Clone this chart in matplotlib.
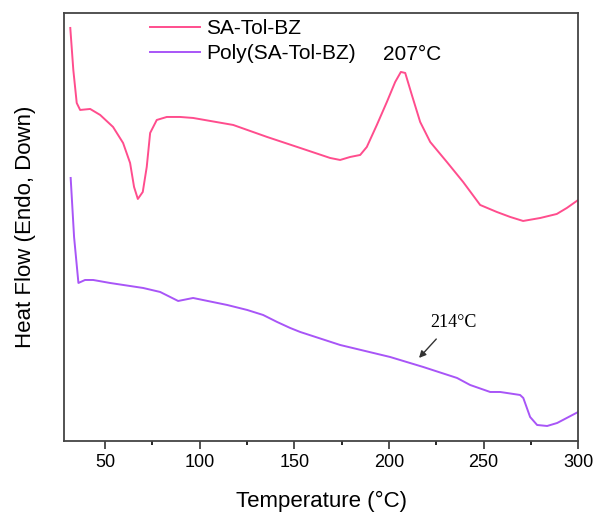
import matplotlib.pyplot as plt

# ---------------- DSC curves (arbitrary heat-flow units)
tempMonomer_C = [31.6, 33.2, 35.0, 36.8, 42.1, 47.4, 54.2, 59.5, 63.2, 65.3, 67.3, 69.9,
                 72.0, 73.8, 77.3, 82.6, 89.6, 96.5, 117.7, 135.6, 153.1, 168.9, 174.2,
                 179.5, 184.8, 188.3, 193.6, 198.9, 203.3, 206.3, 208.6, 212.1, 216.5,
                 221.8, 230.6, 239.2, 248.2, 257.0, 264.1, 270.9, 280.0, 288.7, 294.0, 300.0]
heatFlowMonomer = [413, 371, 338, 331, 332, 326, 314, 298, 278, 254, 242, 249,
                   274, 308, 321, 324, 324, 323, 316, 304, 293, 283, 281,
                   284, 286, 294, 316, 339, 359, 369, 368, 346, 319,
                   299, 279, 259, 236, 229, 224, 220, 223, 227, 233, 241]

tempPolymer_C = [31.8, 33.6, 35.9, 39.4, 43.7, 52.6, 70.1, 79.1, 88.6, 96.5, 114.5, 125.1,
                 133.5, 140.9, 147.8, 153.1, 174.2, 200.6, 218.1, 236.0, 242.9, 253.5,
                 258.8, 269.3, 271.0, 274.6, 278.3, 283.6, 288.9, 300.0]
heatFlowPolymer = [263, 204, 158, 161, 161, 158, 153, 149, 140, 143, 136, 131,
                   126, 119, 113, 109, 96, 84, 74, 63, 56, 49,
                   49, 46, 43, 24, 16, 15, 18, 29]

xTicks = [50, 100, 150, 200, 250, 300]
xMinorTicks = [75, 125, 175, 225, 275]

plt.rcParams['font.family'] = ['Liberation Sans', 'DejaVu Sans']

fig = plt.figure(figsize=(5.93, 5.12), dpi=100)
ax = fig.add_axes([0.108, 0.1387, 0.867, 0.836])

ax.plot(tempMonomer_C, heatFlowMonomer, '-', c='#ff4d8d', lw=1.4, label='SA-Tol-BZ')
ax.plot(tempPolymer_C, heatFlowPolymer, '-', c='#a855f7', lw=1.4, label='Poly(SA-Tol-BZ)')

ax.set_xlim(28.3, 300)
ax.set_ylim(0, 428)
ax.set_xticks(xTicks)
ax.set_xticks(xMinorTicks, minor=True)
ax.set_yticks([])
ax.tick_params(axis='x', direction='out', length=6, width=1.2, labelsize=13, colors='#333333')
ax.tick_params(axis='x', which='minor', direction='out', length=3, width=1.2)
ax.tick_params(axis='x', labelcolor='black')
for s in ax.spines.values():
    s.set_linewidth(1.3)
    s.set_color('#444444')

ax.text(196.9, 386, '207°C', fontsize=15, va='center', ha='left')
ax.text(221.8, 118, '214°C', fontsize=13, va='center', ha='left',
        family=['Liberation Serif', 'DejaVu Serif'])
ax.annotate('', xy=(214.9, 81), xytext=(226, 104),
            arrowprops=dict(arrowstyle='-|>', color='#333333', lw=1, mutation_scale=10))

ax.set_xlabel('Temperature (°C)', fontsize=16, labelpad=14)
ax.set_ylabel('Heat Flow (Endo, Down)', fontsize=16, labelpad=20)
ax.legend(loc='upper left', bbox_to_anchor=(0.13, 1.03), frameon=False, fontsize=15,
          handlelength=2.4, handletextpad=0.3, labelspacing=0.3)

fig.savefig('out.png', dpi=100)
